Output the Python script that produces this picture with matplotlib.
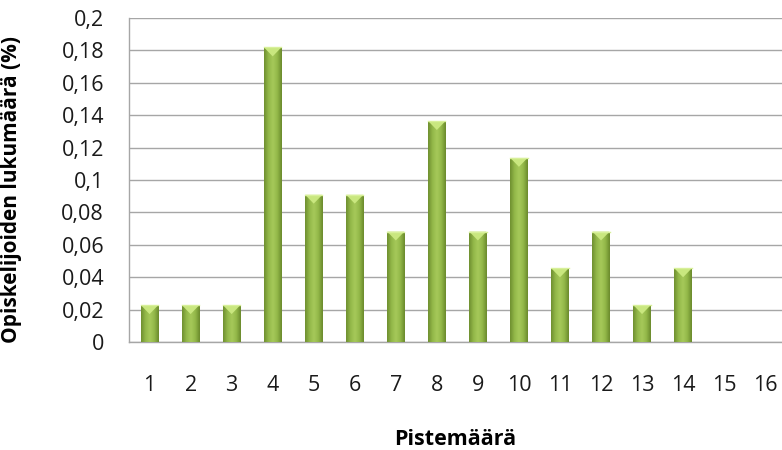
import numpy as np
import matplotlib.pyplot as plt
from matplotlib.colors import LinearSegmentedColormap
from matplotlib.patches import Polygon

plt.rcParams['font.family'] = ['Open Sans', 'DejaVu Sans']

# data: share of students per score
scores = list(range(1, 17))
counts = [1, 1, 1, 8, 4, 4, 3, 6, 3, 5, 2, 3, 1, 2, 0, 0]
total = 44
shares = [c / total for c in counts]
yticks = [0, 0.02, 0.04, 0.06, 0.08, 0.1, 0.12, 0.14, 0.16, 0.18, 0.2]
ytick_labels = ["0", "0,02", "0,04", "0,06", "0,08", "0,1", "0,12", "0,14", "0,16", "0,18", "0,2"]

fig = plt.figure(figsize=(7.82, 4.5), dpi=100)
ax = fig.add_axes([0.165, 0.24, 0.835, 0.72])

grid_col = "#a6a6a6"
bar_w = 0.42
bars = ax.bar(scores, shares, width=bar_w, color="none", edgecolor="none", zorder=3)

# horizontal gradient, light in the middle, darker at the edges
cmap = LinearSegmentedColormap.from_list(
    "bev", ["#6f8f30", "#93b849", "#a6c95a", "#93b849", "#6a8a2c"])
grad = np.linspace(0, 1, 64).reshape(1, -1)
for b in bars:
    h = b.get_height()
    if h <= 0:
        continue
    x0 = b.get_x()
    w = b.get_width()
    im = ax.imshow(grad, cmap=cmap, aspect="auto", extent=(x0, x0 + w, 0, h),
                   zorder=3, interpolation="bicubic")
    im.set_clip_path(b)
    # bevel highlight on the top
    bev = 0.0055
    tri = Polygon([(x0, h), (x0 + w, h), (x0 + w / 2, h - bev)],
                  closed=True, facecolor="#c9e77f", edgecolor="none", zorder=4)
    ax.add_patch(tri)
    ax.plot([x0, x0 + w], [h, h], color="#d8f09a", lw=1, zorder=4)

ax.set_xlim(0.5, 16.41)
ax.set_ylim(0, 0.2)
ax.set_yticks(yticks)
ax.set_yticklabels(ytick_labels)
ax.set_xticks(scores)
ax.set_xticklabels([str(s) for s in scores])
ax.yaxis.grid(True, color=grid_col, lw=1)
ax.set_axisbelow(True)
ax.tick_params(axis="both", length=0, labelsize=15.5, colors="#1a1a1a")
ax.tick_params(axis="x", pad=24)
ax.tick_params(axis="y", pad=18)
for side in ["top", "right"]:
    ax.spines[side].set_visible(False)
for side in ["left", "bottom"]:
    ax.spines[side].set_color(grid_col)
    ax.spines[side].set_linewidth(1)

ax.set_xlabel("Pistemäärä", fontsize=15.5, fontweight="bold")
ax.xaxis.set_label_coords(0.5, -0.27)
ax.set_ylabel("Opiskelijoiden lukumäärä (%)", fontsize=15, fontweight="bold")
ax.yaxis.set_label_coords(-0.164, 0.47)

fig.savefig("out.png", dpi=100)
